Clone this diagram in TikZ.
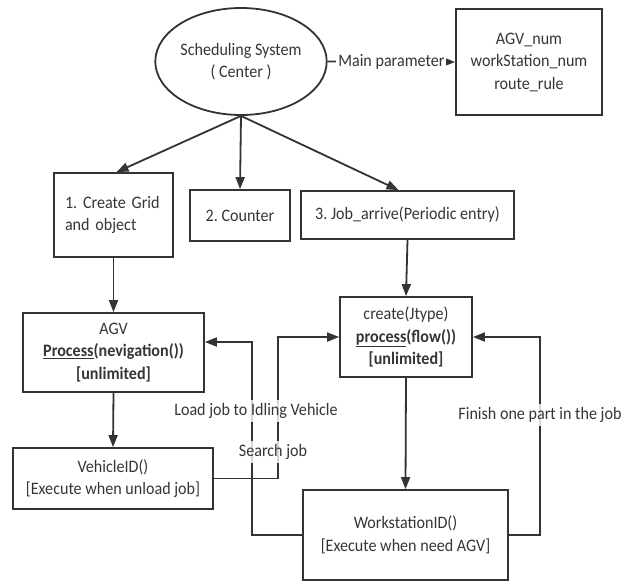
\documentclass[tikz,border=0pt]{standalone}
\usepackage{fontspec}
\setmainfont{Carlito}[FakeStretch=0.92]
\usetikzlibrary{arrows.meta,shapes.geometric}
\definecolor{ink}{HTML}{333333}
\definecolor{txt}{HTML}{353535}
\begin{document}
\frenchspacing
\begin{tikzpicture}[x=1pt,y=-1pt,
  every node/.style={font=\fontsize{17.5}{22.5}\selectfont, text=txt},
  box/.style={draw=ink, line width=1.8pt, inner sep=0pt, align=center},
  conn/.style={draw=ink, line width=1.8pt, -{Triangle[length=12pt,width=9pt]}},
  lbl/.style={fill=white, fill opacity=0.8, text opacity=1, inner xsep=2pt, inner ysep=3pt}]
\useasboundingbox (0,0) rectangle (623,582);

% central scheduler and its parameters
\node[box, ellipse, minimum width=158pt, minimum height=107pt] (center) at (241,61.5) {Scheduling System\\( Center )};
\node[box, minimum width=146pt, minimum height=106pt] (param) at (529,62) {AGV\_num\\workStation\_num\\route\_rule};

% three start-up tasks
\node[box, minimum width=119pt, minimum height=84pt, text width=97pt, align=left] (grid) at (113.5,215) {1. Create Grid\\and object};
\node[box, minimum width=100pt, minimum height=51pt] (counter) at (240,215.5) {2. Counter};
\node[box, minimum width=213pt, minimum height=48pt] (job) at (407.5,215) {3. Job\_arrive(Periodic entry)};

% processes
\node[box, minimum width=181pt, minimum height=79pt] (agv) at (113.5,352.5) {AGV\\\textbf{\underline{Process}(nevigation())}\\\textbf{[unlimited]}};
\node[box, minimum width=132pt, minimum height=80pt] (create) at (406,337) {create(Jtype)\\\textbf{\underline{process}(flow())}\\\textbf{[unlimited]}};
\node[box, minimum width=200pt, minimum height=61pt] (vehicle) at (113,478.5) {VehicleID()\\{[}Execute when unload job{]}};
\node[box, minimum width=205pt, minimum height=90pt] (ws) at (405.5,535) {WorkstationID()\\{[}Execute when need AGV{]}};

% connectors
\draw[conn] (center.east) -- node[lbl, fill opacity=1] {Main parameter} (param.west);
\draw[conn] (center.south) -- ([xshift=3pt]grid.north);
\draw[conn] (center.south) -- (counter.north);
\draw[conn] (center.south) -- ([xshift=-9pt]job.north);
\draw[conn] (grid.south) -- (agv.north);
\draw[conn] (job.south) -- (create.north);
\draw[conn] (create.south) -- (ws.north);
\draw[conn] (agv.south) -- (vehicle.north);
\draw[conn] (ws.west) -- ++(-50,0) |- ([yshift=10.5pt]agv.east);
\draw[conn] (vehicle.east) -- ++(64,0) |- (create.west);
\draw[conn] (ws.east) -- ++(31,0) |- (create.east);

% connector labels
\node[lbl] (loadlbl) at (256,411) {Load job to Idling Vehicle};
\node[lbl] (searchlbl) at (273,452) {Search job};
\node[lbl] (finishlbl) at (540,415) {Finish one part in the job};
\end{tikzpicture}
\end{document}
